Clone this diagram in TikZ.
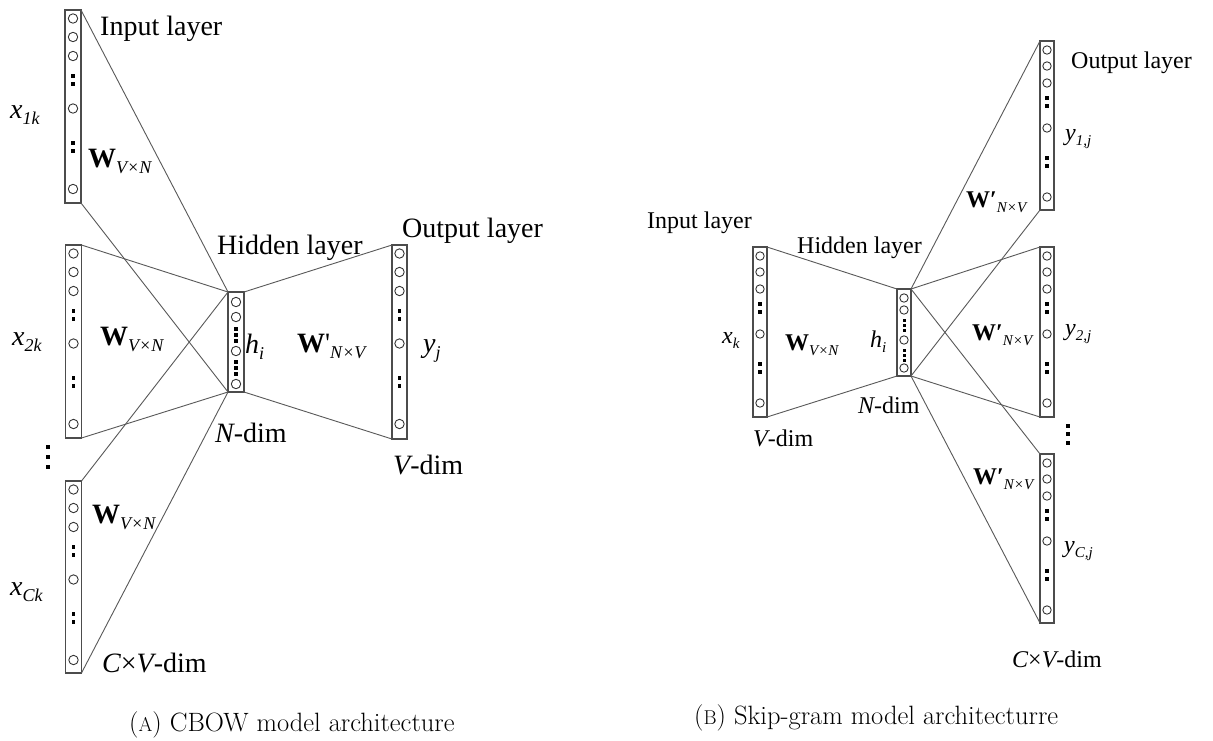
\documentclass[tikz,border=0pt]{standalone}
\usepackage{fontspec}
\setmainfont{Liberation Serif}
\newfontfamily\capfont{Latin Modern Roman}
\usetikzlibrary{calc}

% lowered italic subscripts for the two diagrams
\newcommand\lsb[1]{\raisebox{-6pt}{\fontsize{18}{18}\selectfont\itshape #1}}
\newcommand\rsb[1]{\raisebox{-5pt}{\fontsize{15}{15}\selectfont\itshape #1}}

% units inside a layer box: node, circle radius, dot size, circle offsets, dot offsets
\newcommand\colunits[5]{%
  \foreach \o in {#4}{\draw[unit] ($(#1.north)+(0,\o)$) circle[radius=#2pt];}%
  \foreach \o in {#5}{\fill[unitdot] ($(#1.north)+(-#3/2,\o-#3/2)$) rectangle ++(#3,#3);}%
}

\tikzset{
  colbox/.style={draw=black!70, line width=1.4pt, rectangle, inner sep=0pt, outer sep=0pt, anchor=north},
  unit/.style={draw=black!80, line width=0.9pt},
  unitdot/.style={fill=black},
  link/.style={draw=black!65, line width=0.9pt},
  lblL/.style={font=\fontsize{28}{32}\selectfont, inner sep=0pt, anchor=base west},
  lblR/.style={font=\fontsize{24}{28}\selectfont, inner sep=0pt, anchor=base west},
  capt/.style={font=\capfont\fontsize{26.5}{30}\selectfont, inner sep=0pt, anchor=base west},
}

\begin{document}
\begin{tikzpicture}[x=1pt,y=-1pt]
\useasboundingbox (0,0) rectangle (1213,740);
\fill[white] (0,0) rectangle (1213,740);

% ---------------- CBOW ----------------
\node[colbox, minimum width=16pt, minimum height=193pt] (in1) at (73,10) {};
\node[colbox, minimum width=16pt, minimum height=193pt] (in2) at (73.5,245) {};
\node[colbox, minimum width=16pt, minimum height=192pt] (in3) at (73.5,481) {};
\node[colbox, minimum width=16pt, minimum height=100pt] (hidL) at (236,292) {};
\node[colbox, minimum width=15pt, minimum height=194pt] (outL) at (399.5,245) {};

\foreach \c in {in1,in2,in3}{
  \draw[link] (\c.north east) -- (hidL.north west);
  \draw[link] (\c.south east) -- (hidL.south west);
}
\draw[link] (hidL.north east) -- (outL.north west);
\draw[link] (hidL.south east) -- (outL.south west);

\foreach \c in {in1,in2,in3,outL}{\colunits{\c}{4.7}{3.6}{8.5,27,46,98.5,179}{66,74,133,141}}
\colunits{hidL}{4.7}{3.4}{10,25,59,92}{37,43,49,70,76,82}

% vertical ellipsis between the context inputs
\foreach \o in {447,457,467}{\fill (46,\o-2) rectangle ++(4,4);}

\node[lblL] (tInL) at (100,35) {Input layer};
\node[lblL] (tHidL) at (217,254) {Hidden layer};
\node[lblL] (tOutL) at (402,237) {Output layer};
\node[lblL] (x1) at (10,118) {\itshape x\lsb{1k}};
\node[lblL] (x2) at (12,345) {\itshape x\lsb{2k}};
\node[lblL] (xC) at (10,595) {\itshape x\lsb{Ck}};
\node[lblL] (w1) at (88,167) {\bfseries W\lsb{\mdseries V×N}};
\node[lblL] (w2) at (100,345) {\bfseries W\lsb{\mdseries V×N}};
\node[lblL] (w3) at (92,523) {\bfseries W\lsb{\mdseries V×N}};
\node[lblL] (cvdimL) at (102,672) {{\itshape C}×{\itshape V}-dim};
\node[lblL] (hL) at (245,353) {\itshape h\lsb{i}};
\node[lblL] (wpL) at (297,352) {{\bfseries W}\textquotesingle\lsb{N×V}};
\node[lblL] (yL) at (423,352) {\itshape y\lsb{j}};
\node[lblL] (ndimL) at (215,442) {{\itshape N}-dim};
\node[lblL] (vdimL) at (393,474) {{\itshape V}-dim};

% ---------------- Skip-gram ----------------
\node[colbox, minimum width=14pt, minimum height=170pt] (inR) at (760,247) {};
\node[colbox, minimum width=14pt, minimum height=87pt] (hidR) at (904,289) {};
\node[colbox, minimum width=14pt, minimum height=169pt] (o1) at (1047,41) {};
\node[colbox, minimum width=14pt, minimum height=170pt] (o2) at (1047,247) {};
\node[colbox, minimum width=14pt, minimum height=169pt] (o3) at (1047,454) {};

\draw[link] (inR.north east) -- (hidR.north west);
\draw[link] (inR.south east) -- (hidR.south west);
\foreach \c in {o1,o2,o3}{
  \draw[link] (hidR.north east) -- (\c.north west);
  \draw[link] (hidR.south east) -- (\c.south west);
}

\foreach \c in {inR,o1,o2,o3}{\colunits{\c}{4.2}{3.2}{9,25,42,87,156}{57,65,117,125}}
\colunits{hidR}{4.2}{3.0}{9,21,51,79}{31,36,41,61,66,71}

% vertical ellipsis between the context outputs
\foreach \o in {426,434,443}{\fill (1066,\o-2) rectangle ++(4,4);}

\node[lblR] (tInR) at (647,228) {Input layer};
\node[lblR] (tHidR) at (797,253) {Hidden layer};
\node[lblR] (tOutR) at (1071,68) {Output layer};
\node[lblR] (xk) at (722,343) {\itshape x\rsb{k}};
\node[lblR] (wR) at (785,350) {\bfseries W\rsb{\mdseries V×N}};
\node[lblR] (hR) at (870,347) {\itshape h\rsb{i}};
\node[lblR] (ndimR) at (858,413) {{\itshape N}-dim};
\node[lblR] (vdimR) at (753,446) {{\itshape V}-dim};
\node[lblR] (y1) at (1065,140) {\itshape y\rsb{1,j}};
\node[lblR] (y2) at (1065,335) {\itshape y\rsb{2,j}};
\node[lblR] (yC) at (1064,552) {\itshape y\rsb{C,j}};
\node[lblR] (wp1) at (966,207) {\bfseries W′\rsb{\mdseries N×V}};
\node[lblR] (wp2) at (972,340) {\bfseries W′\rsb{\mdseries N×V}};
\node[lblR] (wp3) at (973,484) {\bfseries W′\rsb{\mdseries N×V}};
\node[lblR] (cvdimR) at (1012,667) {{\itshape C}×{\itshape V}-dim};

% ---------------- captions ----------------
\node[capt] (capA) at (129,731) {({\fontsize{20}{20}\selectfont A}) CBOW model architecture};
\node[capt] (capB) at (694,724) {({\fontsize{20}{20}\selectfont B}) Skip-gram model architecturre};
\end{tikzpicture}
\end{document}
